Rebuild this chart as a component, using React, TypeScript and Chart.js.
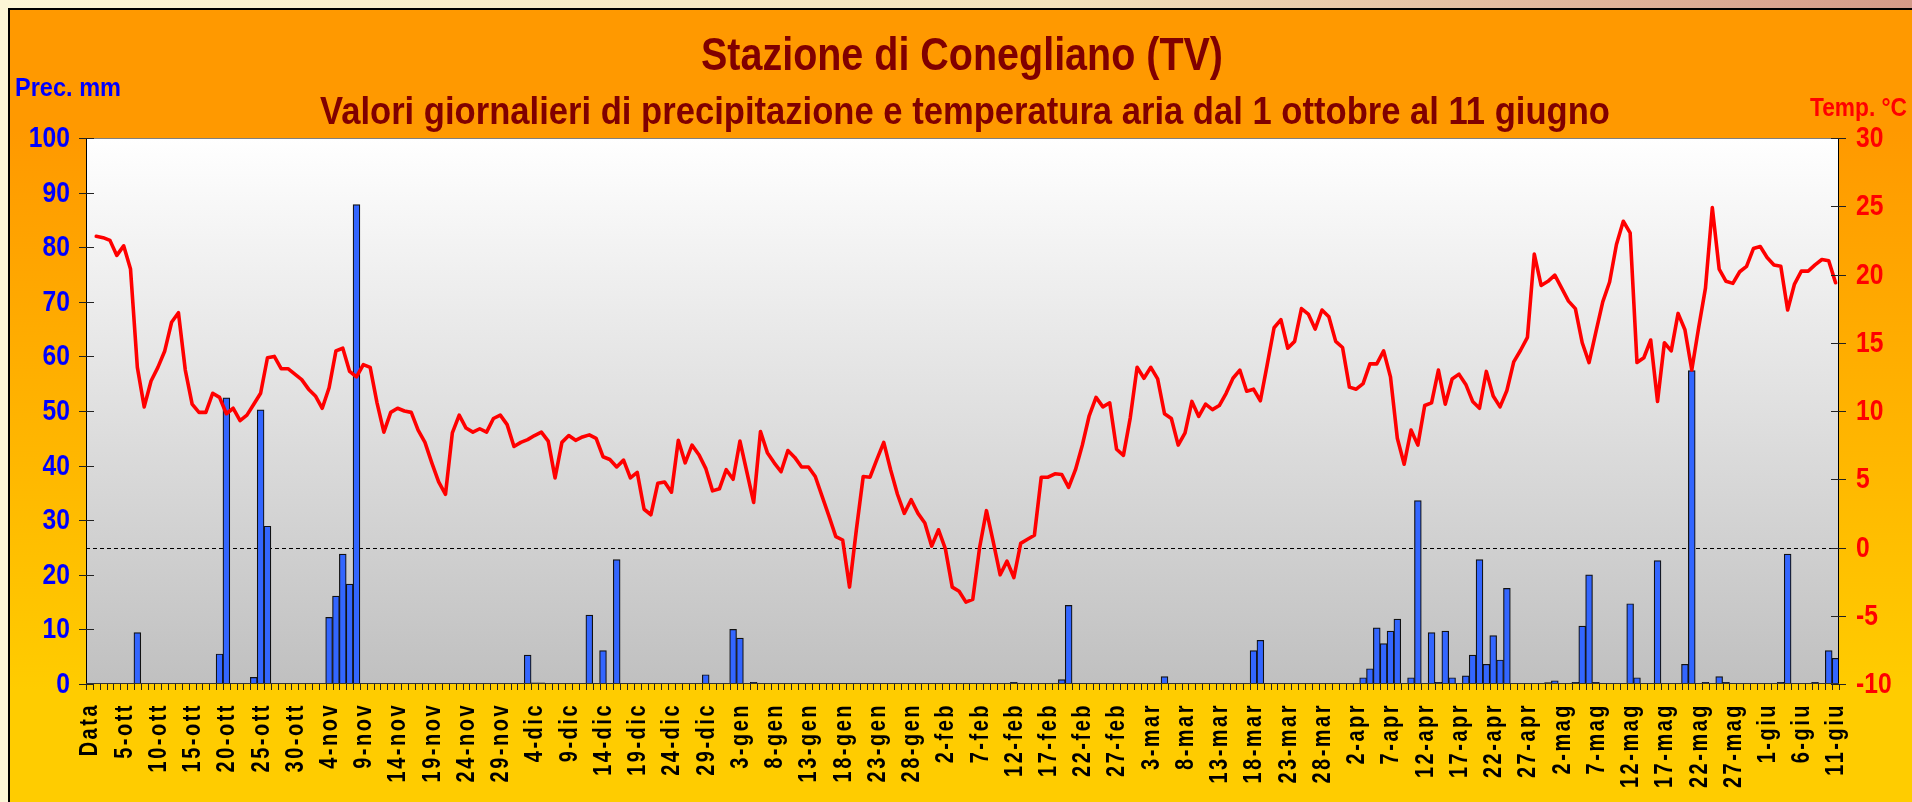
import React, { useEffect, useRef } from 'react';
import { Chart, registerables } from 'chart.js';

Chart.register(...registerables);

// ---------- DATA ----------
const monthNames = ['ott', 'nov', 'dic', 'gen', 'feb', 'mar', 'apr', 'mag', 'giu'];
const monthDays = [31, 30, 31, 31, 29, 31, 30, 31, 11];

// daily mean air temperature (°C)
const tempOtt = [22.8, 22.7, 22.5, 21.4, 22.1, 20.4, 13.2, 10.3, 12.2, 13.2, 14.4, 16.5, 17.2, 13.0, 10.5, 9.9, 9.9, 11.3, 11.0, 9.8, 10.2, 9.3, 9.7, 10.5, 11.3, 13.9, 14.0, 13.1, 13.1, 12.7, 12.3];
const tempNov = [11.6, 11.1, 10.2, 11.7, 14.4, 14.6, 12.9, 12.5, 13.4, 13.2, 10.6, 8.45, 9.9, 10.2, 10.0, 9.9, 8.6, 7.7, 6.2, 4.8, 3.9, 8.4, 9.7, 8.75, 8.45, 8.7, 8.45, 9.45, 9.7, 9.0];
const tempDic = [7.4, 7.7, 7.9, 8.2, 8.45, 7.8, 5.1, 7.7, 8.2, 7.85, 8.1, 8.25, 8.0, 6.65, 6.45, 5.9, 6.4, 5.1, 5.5, 2.8, 2.4, 4.7, 4.8, 4.05, 7.85, 6.2, 7.5, 6.8, 5.8, 4.15, 4.3];
const tempGen = [5.7, 5.0, 7.8, 5.55, 3.3, 8.5, 6.95, 6.2, 5.55, 7.1, 6.6, 5.9, 5.9, 5.2, 3.75, 2.3, 0.8, 0.55, -2.9, 1.3, 5.2, 5.15, 6.45, 7.7, 5.7, 3.9, 2.5, 3.5, 2.5, 1.8, 0.1];
const tempFeb = [1.3, -0.1, -2.9, -3.2, -4.0, -3.8, 0.0, 2.7, 0.4, -2.0, -1.0, -2.2, 0.3, 0.6, 0.9, 5.15, 5.15, 5.4, 5.35, 4.4, 5.7, 7.5, 9.65, 11.0, 10.3, 10.6, 7.2, 6.75, 9.5];
const tempMar = [13.2, 12.4, 13.2, 12.35, 9.8, 9.45, 7.5, 8.4, 10.7, 9.6, 10.5, 10.1, 10.4, 11.3, 12.4, 13.0, 11.45, 11.6, 10.75, 13.4, 16.1, 16.7, 14.6, 15.1, 17.5, 17.1, 16.0, 17.4, 16.9, 15.1, 14.65];
const tempApr = [11.75, 11.6, 12.0, 13.45, 13.45, 14.4, 12.5, 8.0, 6.1, 8.6, 7.5, 10.4, 10.6, 13.0, 10.5, 12.35, 12.7, 11.95, 10.7, 10.2, 12.9, 11.1, 10.3, 11.5, 13.6, 14.45, 15.4, 21.5, 19.2, 19.5];
const tempMag = [19.95, 19.0, 18.05, 17.5, 15.0, 13.55, 15.8, 18.0, 19.45, 22.2, 23.9, 23.05, 13.55, 13.9, 15.2, 10.7, 15.0, 14.4, 17.15, 15.95, 13.0, 16.1, 19.0, 24.9, 20.4, 19.5, 19.35, 20.2, 20.6, 21.9, 22.05];
const tempGiu = [21.25, 20.7, 20.6, 17.4, 19.3, 20.25, 20.25, 20.7, 21.1, 21.0, 19.4];

// daily precipitation (mm)
const precOtt = [0, 0, 0, 0, 0, 0, 9.4, 0, 0, 0, 0, 0, 0, 0, 0, 0, 0, 0, 5.5, 52.4, 0, 0, 0, 1.2, 50.2, 28.9, 0, 0, 0, 0, 0];
const precNov = [0, 0, 0, 12.2, 16.1, 23.8, 18.3, 87.8, 0, 0, 0, 0, 0, 0, 0, 0, 0, 0, 0, 0, 0, 0, 0, 0, 0, 0, 0, 0, 0, 0];
const precDic = [0, 0, 5.3, 0.2, 0.2, 0, 0, 0, 0, 0, 0, 12.6, 0, 6.1, 0, 22.8, 0, 0, 0, 0, 0, 0, 0, 0, 0, 0, 0, 0, 1.7, 0, 0];
const precGen = [0, 10.0, 8.4, 0, 0.3, 0, 0, 0, 0, 0, 0, 0, 0, 0, 0, 0, 0, 0, 0, 0, 0, 0, 0, 0, 0, 0, 0, 0, 0, 0, 0];
const precFeb = [0, 0, 0, 0, 0, 0, 0, 0, 0, 0, 0, 0.3, 0, 0, 0, 0, 0, 0, 0.8, 14.4, 0, 0, 0, 0, 0, 0, 0, 0, 0];
const precMar = [0, 0, 0, 0, 1.35, 0, 0, 0, 0, 0, 0, 0, 0, 0, 0, 0, 0, 6.1, 8.0, 0, 0, 0, 0, 0, 0, 0, 0, 0, 0, 0, 0];
const precApr = [0, 0, 1.15, 2.8, 10.3, 7.4, 9.7, 11.9, 0, 1.15, 33.6, 0, 9.4, 0.3, 9.7, 1.15, 0, 1.5, 5.3, 22.8, 3.6, 8.85, 4.4, 17.5, 0, 0, 0, 0, 0, 0.25];
const precMag = [0.6, 0, 0, 0.3, 10.6, 20.0, 0.3, 0, 0, 0, 0, 14.7, 1.15, 0, 0, 22.6, 0, 0, 0, 3.6, 57.4, 0, 0.3, 0, 1.35, 0.3, 0, 0, 0, 0, 0];
const precGiu = [0, 0, 0.3, 23.8, 0, 0, 0, 0.3, 0, 6.1, 4.7];

const precTicks = [0, 10, 20, 30, 40, 50, 60, 70, 80, 90, 100];
const tempTicks = [-10, -5, 0, 5, 10, 15, 20, 25, 30];
const labelEvery = 5;

const titleText = 'Stazione di Conegliano (TV)';
const subtitleText = 'Valori giornalieri di precipitazione e temperatura aria dal 1 ottobre al 11 giugno';
const precTitle = 'Prec. mm';
const tempTitle = 'Temp. °C';

// ---------- BUILT TABLES ----------
const categories: string[] = ['Data'];
monthNames.forEach((m, k) => {
  for (let d = 1; d <= monthDays[k]; d++) categories.push(`${d}-${m}`);
});
const temperature: (number | null)[] = [null, ...tempOtt, ...tempNov, ...tempDic, ...tempGen, ...tempFeb, ...tempMar, ...tempApr, ...tempMag, ...tempGiu];
const precipitation: (number | null)[] = [null, ...precOtt, ...precNov, ...precDic, ...precGen, ...precFeb, ...precMar, ...precApr, ...precMag, ...precGiu];

const FONT = '"Liberation Sans", Arial, Helvetica, sans-serif';

function drawText(
  ctx: CanvasRenderingContext2D,
  text: string,
  x: number,
  y: number,
  font: string,
  color: string,
  align: CanvasTextAlign,
  baseline: CanvasTextBaseline,
  sx: number,
  targetWidth?: number
) {
  ctx.save();
  ctx.font = font;
  ctx.fillStyle = color;
  ctx.textBaseline = baseline;
  ctx.textAlign = align;
  let s = sx;
  if (targetWidth) s = targetWidth / ctx.measureText(text).width;
  ctx.translate(x, y);
  ctx.scale(s, 1);
  ctx.fillText(text, 0, 0);
  ctx.restore();
}

const backgroundPlugin = {
  id: 'bgPlugin',
  beforeDraw(chart: any) {
    const { ctx, chartArea: ca, width, height } = chart;
    ctx.save();
    let g = ctx.createLinearGradient(0, 0, width, 0);
    g.addColorStop(0, '#FCF6D6');
    g.addColorStop(0.55, '#F3E2BC');
    g.addColorStop(1, '#D49A88');
    ctx.fillStyle = g;
    ctx.fillRect(0, 0, width, height);
    const bx = 9, by = 9;
    g = ctx.createLinearGradient(0, 130, 0, 690);
    g.addColorStop(0, '#FF9900');
    g.addColorStop(1, '#FFCC00');
    ctx.fillStyle = g;
    ctx.fillRect(bx, by, width - bx, height - by);
    ctx.strokeStyle = '#000000';
    ctx.lineWidth = 2;
    ctx.beginPath();
    ctx.moveTo(bx, height);
    ctx.lineTo(bx, by);
    ctx.lineTo(width, by);
    ctx.stroke();
    g = ctx.createLinearGradient(0, ca.top, 0, ca.bottom);
    g.addColorStop(0, '#FFFFFF');
    g.addColorStop(1, '#C0C0C0');
    ctx.fillStyle = g;
    ctx.fillRect(ca.left, ca.top, ca.right - ca.left, ca.bottom - ca.top);
    ctx.restore();
  },
  beforeDatasetsDraw(chart: any) {
    const { ctx, chartArea: ca } = chart;
    const y0 = Math.round(chart.scales.y1.getPixelForValue(0)) + 0.5;
    ctx.save();
    ctx.strokeStyle = '#000000';
    ctx.lineWidth = 1;
    ctx.setLineDash([4, 3]);
    ctx.beginPath();
    ctx.moveTo(ca.left, y0);
    ctx.lineTo(ca.right, y0);
    ctx.stroke();
    ctx.restore();
  },
  afterDatasetsDraw(chart: any) {
    const { ctx, chartArea: ca } = chart;
    const xs = chart.scales.x;
    const ys = chart.scales.y;
    const y1s = chart.scales.y1;
    ctx.save();
    ctx.strokeStyle = '#808080';
    ctx.lineWidth = 1;
    ctx.strokeRect(ca.left + 0.5, ca.top + 0.5, ca.right - ca.left - 1, ca.bottom - ca.top - 1);
    ctx.strokeStyle = '#000000';
    ctx.beginPath();
    ctx.moveTo(ca.left + 0.5, ca.top);
    ctx.lineTo(ca.left + 0.5, ca.bottom);
    ctx.moveTo(ca.right - 0.5, ca.top);
    ctx.lineTo(ca.right - 0.5, ca.bottom);
    ctx.stroke();
    ctx.strokeStyle = '#333333';
    ctx.beginPath();
    ctx.moveTo(ca.left, ca.bottom - 0.5);
    ctx.lineTo(ca.right, ca.bottom - 0.5);
    ctx.stroke();
    ctx.strokeStyle = '#222222';
    ctx.beginPath();
    precTicks.forEach((v) => {
      const y = Math.round(ys.getPixelForValue(v)) + 0.5;
      ctx.moveTo(ca.left - 7, y);
      ctx.lineTo(ca.left + 8, y);
    });
    tempTicks.forEach((v) => {
      const y = Math.round(y1s.getPixelForValue(v)) + 0.5;
      ctx.moveTo(ca.right - 8, y);
      ctx.lineTo(ca.right + 7, y);
    });
    ctx.stroke();
    ctx.beginPath();
    const n = categories.length;
    for (let i = 0; i <= n; i++) {
      let x;
      if (i === 0) x = ca.left;
      else if (i === n) x = ca.right;
      else x = (xs.getPixelForValue(i - 1) + xs.getPixelForValue(i)) / 2;
      x = Math.round(x) + 0.5;
      ctx.moveTo(x, ca.bottom);
      ctx.lineTo(x, ca.bottom + 6);
    }
    ctx.stroke();
    ctx.restore();
  },
  afterDraw(chart: any) {
    const { ctx, chartArea: ca } = chart;
    const xs = chart.scales.x;
    const ys = chart.scales.y;
    const y1s = chart.scales.y1;
    drawText(ctx, titleText, 962, 70, `bold 46px ${FONT}`, '#800000', 'center', 'alphabetic', 1, 522);
    drawText(ctx, subtitleText, 965, 124, `bold 38px ${FONT}`, '#800000', 'center', 'alphabetic', 1, 1290);
    drawText(ctx, precTitle, 15, 96, `bold 26px ${FONT}`, '#0000FF', 'left', 'alphabetic', 1, 106);
    drawText(ctx, tempTitle, 1810, 116, `bold 26px ${FONT}`, '#FF0000', 'left', 'alphabetic', 1, 97);
    precTicks.forEach((v) => {
      drawText(ctx, String(v), 70, ys.getPixelForValue(v) + 1, `bold 29px ${FONT}`, '#0000FF', 'right', 'middle', 0.85);
    });
    tempTicks.forEach((v) => {
      drawText(ctx, String(v), 1856, y1s.getPixelForValue(v) + 1, `bold 29px ${FONT}`, '#FF0000', 'left', 'middle', 0.85);
    });
    ctx.save();
    ctx.font = `bold 20px ${FONT}`;
    ctx.fillStyle = '#000000';
    (ctx as any).letterSpacing = '2.5px';
    ctx.textAlign = 'right';
    ctx.textBaseline = 'middle';
    categories.forEach((lab, i) => {
      if (i % labelEvery !== 0) return;
      const x = xs.getPixelForValue(i);
      ctx.save();
      ctx.translate(x + 1, ca.bottom + 19);
      ctx.rotate(-Math.PI / 2);
      ctx.scale(1, 1.25);
      ctx.fillText(lab, 0, 0);
      ctx.restore();
    });
    ctx.restore();
  },
};

export default function App() {
  const ref = useRef<HTMLCanvasElement>(null);
  useEffect(() => {
    const canvas = ref.current;
    if (!canvas) return;
    const chart = new Chart(canvas, {
      type: 'bar',
      data: {
        labels: categories,
        datasets: [
          {
            type: 'line',
            label: 'Temperatura',
            data: temperature,
            yAxisID: 'y1',
            borderColor: '#FF0000',
            backgroundColor: '#FF0000',
            borderWidth: 3.6,
            pointRadius: 0,
            tension: 0,
            borderJoinStyle: 'round',
            borderCapStyle: 'round',
            order: 1,
          } as any,
          {
            type: 'bar',
            label: 'Precipitazione',
            data: precipitation,
            yAxisID: 'y',
            backgroundColor: '#3366FF',
            borderColor: '#111111',
            borderWidth: 1.2,
            barPercentage: 1,
            categoryPercentage: 1,
            order: 2,
          } as any,
        ],
      },
      options: {
        responsive: false,
        maintainAspectRatio: false,
        animation: false,
        devicePixelRatio: 1,
        layout: { padding: { top: 138, left: 0, right: 0, bottom: 0 } },
        plugins: {
          legend: { display: false },
          tooltip: { enabled: false },
          title: { display: false },
        },
        scales: {
          x: {
            type: 'category',
            offset: true,
            grid: { display: false },
            border: { display: false },
            ticks: { display: false, autoSkip: false },
            afterFit: (s: any) => { s.height = 118; },
          },
          y: {
            position: 'left',
            min: 0,
            max: 100,
            grid: { display: false },
            border: { display: false },
            ticks: { display: false, stepSize: 10 },
            afterFit: (s: any) => { s.width = 86; },
          },
          y1: {
            position: 'right',
            min: -10,
            max: 30,
            grid: { display: false },
            border: { display: false },
            ticks: { display: false, stepSize: 5 },
            afterFit: (s: any) => { s.width = 73; },
          },
        },
      } as any,
      plugins: [backgroundPlugin],
    });
    return () => chart.destroy();
  }, []);
  return (
    <div style={{ position: 'fixed', left: 0, top: 0, width: 1912, height: 802, overflow: 'hidden' }}>
      <canvas ref={ref} width={1912} height={802} style={{ display: 'block', width: 1912, height: 802 }} />
    </div>
  );
}
